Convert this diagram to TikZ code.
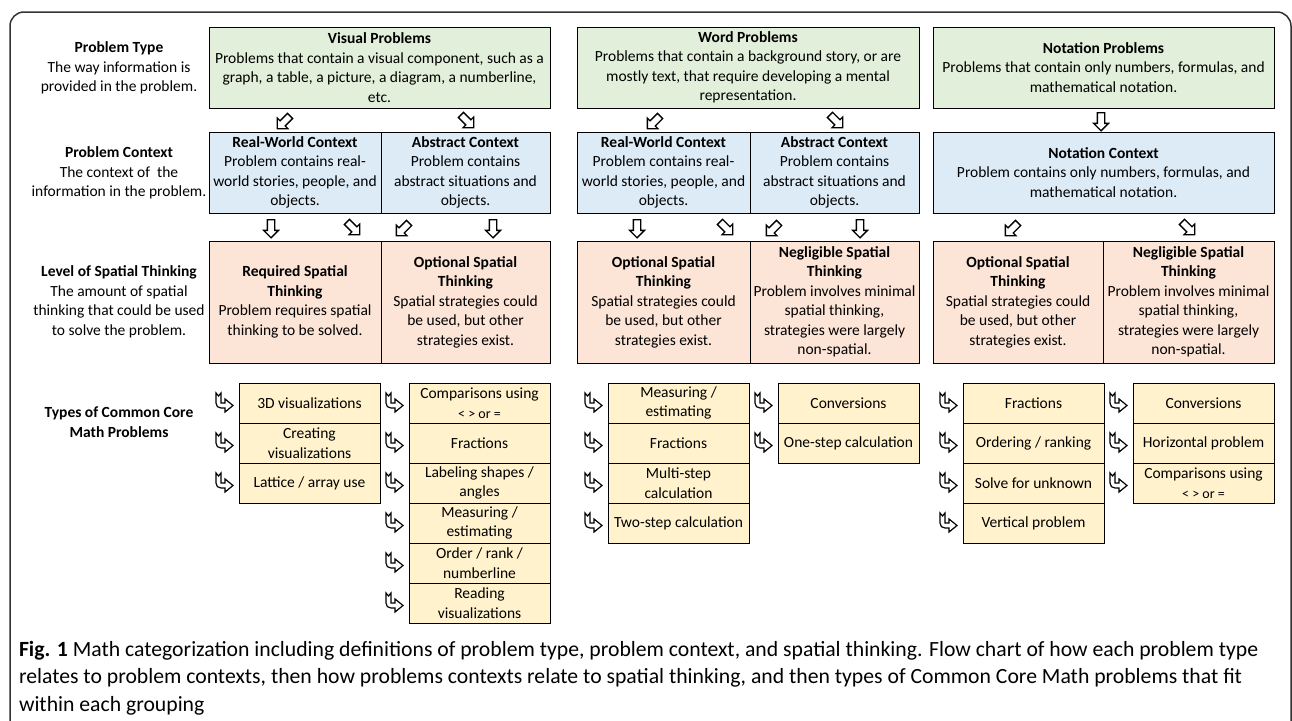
\documentclass[tikz,border=0pt]{standalone}
\usepackage{fontspec}
\setmainfont{Carlito}
\usetikzlibrary{positioning,shapes.arrows}
\definecolor{typegreen}{HTML}{E2EFDA}
\definecolor{ctxblue}{HTML}{DDEBF7}
\definecolor{spsalmon}{HTML}{FCE4D6}
\definecolor{itemyellow}{HTML}{FFF2CC}
\definecolor{framegray}{HTML}{333333}
\newcommand{\smallsign}[1]{{\fontsize{14}{16}\selectfont #1}}

\begin{document}
\begin{tikzpicture}[x=1pt, y=-1pt, node distance=0pt,
  every node/.style={font=\fontsize{15.5}{19.5}\selectfont, inner sep=0pt, outer sep=0pt},
  typebox/.style={draw, line width=0.9pt, fill=typegreen, minimum width=341pt, minimum height=81pt, align=center, anchor=north west},
  ctxbox/.style={draw, line width=0.9pt, fill=ctxblue, minimum height=81pt, align=center},
  spbox/.style={draw, line width=0.9pt, fill=spsalmon, minimum height=122pt, align=center},
  itembox/.style={draw, line width=0.9pt, fill=itemyellow, minimum width=141pt, minimum height=40pt, align=center},
  hollow/.style={single arrow, draw, line width=1.3pt, fill=white, minimum height=18pt, inner xsep=0pt, inner ysep=3pt, single arrow head extend=3.8pt},
  bentarrow/.pic={\draw[line width=1.2pt, fill=white] (-8,-10) -- (-5.5,-7) -- (-3,-10) -- (-3,0) -- (1,0) -- (1,-4) -- (9,2.5) -- (1,9) -- (1,5) -- (-3,5) .. controls (-6,5) and (-8,3) .. (-8,0) -- cycle;}]
  \useasboundingbox (0,0) rectangle (1292,720);
  \draw[framegray, line width=1.5pt, rounded corners=14pt] (10,730) -- (10,12) -- (1291,12) -- (1291,730);

  % row labels
  \node (ltype) [align=center] at (119,68) {\textbf{Problem Type}\\The way information is\\provided in the problem.};
  \node (lctx) [align=center] at (119,173) {\textbf{Problem Context}\\The context of\ \ the\\information in the problem.};
  \node (lspat) [align=center] at (119,302) {\textbf{Level of Spatial Thinking}\\The amount of spatial\\thinking that could be used\\to solve the problem.};
  \node (lcore) [align=center] at (119,422) {\textbf{Types of Common Core}\\\textbf{Math Problems}};

  % problem types
  \node (gv) [typebox] at (209,27) {\textbf{Visual Problems}\\Problems that contain a visual component, such as a\\graph, a table, a picture, a diagram, a numberline,\\etc.};
  \node (gw) [typebox, minimum width=342pt] at (577,27) {\textbf{Word Problems}\\Problems that contain a background story, or are\\mostly text, that require developing a mental\\representation.};
  \node (gn) [typebox] at (933,27) {\textbf{Notation Problems}\\Problems that contain only numbers, formulas, and\\mathematical notation.};

  % problem contexts
  \node (bv1) [ctxbox, minimum width=172pt, below=24pt of gv.south west, anchor=north west] {\textbf{Real-World Context}\\Problem contains real-\\world stories, people, and\\objects.};
  \node (bv2) [ctxbox, minimum width=169pt, right=of bv1] {\textbf{Abstract Context}\\Problem contains\\abstract situations and\\objects.};
  \node (bw1) [ctxbox, minimum width=173pt, below=24pt of gw.south west, anchor=north west] {\textbf{Real-World Context}\\Problem contains real-\\world stories, people, and\\objects.};
  \node (bw2) [ctxbox, minimum width=169pt, right=of bw1] {\textbf{Abstract Context}\\Problem contains\\abstract situations and\\objects.};
  \node (bn) [ctxbox, minimum width=341pt, below=24pt of gn.south west, anchor=north west] {\textbf{Notation Context}\\Problem contains only numbers, formulas, and\\mathematical notation.};

  % spatial thinking
  \node (sv1) [spbox, minimum width=172pt, below=28pt of bv1.south west, anchor=north west] {\textbf{Required Spatial}\\\textbf{Thinking}\\Problem requires spatial\\thinking to be solved.};
  \node (sv2) [spbox, minimum width=169pt, right=of sv1] {\textbf{Optional Spatial}\\\textbf{Thinking}\\Spatial strategies could\\be used, but other\\strategies exist.};
  \node (sw1) [spbox, minimum width=173pt, below=28pt of bw1.south west, anchor=north west] {\textbf{Optional Spatial}\\\textbf{Thinking}\\Spatial strategies could\\be used, but other\\strategies exist.};
  \node (sw2) [spbox, minimum width=169pt, right=of sw1] {\textbf{Negligible Spatial}\\\textbf{Thinking}\\Problem involves minimal\\spatial thinking,\\strategies were largely\\non-spatial.};
  \node (sn1) [spbox, minimum width=170pt, below=28pt of bn.south west, anchor=north west] {\textbf{Optional Spatial}\\\textbf{Thinking}\\Spatial strategies could\\be used, but other\\strategies exist.};
  \node (sn2) [spbox, minimum width=171pt, right=of sn1] {\textbf{Negligible Spatial}\\\textbf{Thinking}\\Problem involves minimal\\spatial thinking,\\strategies were largely\\non-spatial.};

  % hollow arrows between the rows
  \node (a1) [hollow, rotate=225] at (285,121) {};
  \node (a2) [hollow, rotate=-45] at (466,120) {};
  \node (a3) [hollow, rotate=225] at (655,121) {};
  \node (a4) [hollow, rotate=-45] at (835,120) {};
  \node (a5) [hollow, rotate=-90] at (1101,120) {};
  \node (a6) [hollow, rotate=-90] at (271,227) {};
  \node (a7) [hollow, rotate=-45] at (352,227) {};
  \node (a8) [hollow, rotate=225] at (404,228) {};
  \node (a9) [hollow, rotate=-90] at (493,227) {};
  \node (a10) [hollow, rotate=-90] at (637,227) {};
  \node (a11) [hollow, rotate=-45] at (725,227) {};
  \node (a12) [hollow, rotate=225] at (774,228) {};
  \node (a13) [hollow, rotate=-90] at (860,227) {};
  \node (a14) [hollow, rotate=225] at (1013,228) {};
  \node (a15) [hollow, rotate=-45] at (1187,227) {};

  % common core problem types
  \node (v1a) [itembox, below right=20pt and 30pt of sv1.south west] {3D visualizations};
  \node (v1b) [itembox, below=of v1a] {Creating\\visualizations};
  \node (v1c) [itembox, below=of v1b] {Lattice / array use};

  \node (v2a) [itembox, below right=20pt and 28pt of sv2.south west] {Comparisons using\\\smallsign{< > or =}};
  \node (v2b) [itembox, below=of v2a] {Fractions};
  \node (v2c) [itembox, below=of v2b] {Labeling shapes /\\angles};
  \node (v2d) [itembox, below=of v2c] {Measuring /\\estimating};
  \node (v2e) [itembox, below=of v2d] {Order / rank /\\numberline};
  \node (v2f) [itembox, below=of v2e] {Reading\\visualizations};

  \node (w1a) [itembox, below right=20pt and 31pt of sw1.south west] {Measuring /\\estimating};
  \node (w1b) [itembox, below=of w1a] {Fractions};
  \node (w1c) [itembox, below=of w1b] {Multi-step\\calculation};
  \node (w1d) [itembox, below=of w1c] {Two-step calculation};

  \node (w2a) [itembox, below right=20pt and 28pt of sw2.south west] {Conversions};
  \node (w2b) [itembox, below=of w2a] {One-step calculation};

  \node (n1a) [itembox, below right=20pt and 30pt of sn1.south west] {Fractions};
  \node (n1b) [itembox, below=of n1a] {Ordering / ranking};
  \node (n1c) [itembox, below=of n1b] {Solve for unknown};
  \node (n1d) [itembox, below=of n1c] {Vertical problem};

  \node (n2a) [itembox, below right=20pt and 30pt of sn2.south west] {Conversions};
  \node (n2b) [itembox, below=of n2a] {Horizontal problem};
  \node (n2c) [itembox, below=of n2b] {Comparisons using\\\smallsign{< > or =}};

  % bent arrows in front of each type
  \pic at ([xshift=-15pt]v1a.west) {bentarrow};
  \pic at ([xshift=-15pt]v1b.west) {bentarrow};
  \pic at ([xshift=-15pt]v1c.west) {bentarrow};
  \pic at ([xshift=-15pt]v2a.west) {bentarrow};
  \pic at ([xshift=-15pt]v2b.west) {bentarrow};
  \pic at ([xshift=-15pt]v2c.west) {bentarrow};
  \pic at ([xshift=-15pt]v2d.west) {bentarrow};
  \pic at ([xshift=-15pt]v2e.west) {bentarrow};
  \pic at ([xshift=-15pt]v2f.west) {bentarrow};
  \pic at ([xshift=-15pt]w1a.west) {bentarrow};
  \pic at ([xshift=-15pt]w1b.west) {bentarrow};
  \pic at ([xshift=-15pt]w1c.west) {bentarrow};
  \pic at ([xshift=-15pt]w1d.west) {bentarrow};
  \pic at ([xshift=-15pt]w2a.west) {bentarrow};
  \pic at ([xshift=-15pt]w2b.west) {bentarrow};
  \pic at ([xshift=-15pt]n1a.west) {bentarrow};
  \pic at ([xshift=-15pt]n1b.west) {bentarrow};
  \pic at ([xshift=-15pt]n1c.west) {bentarrow};
  \pic at ([xshift=-15pt]n1d.west) {bentarrow};
  \pic at ([xshift=-15pt]n2a.west) {bentarrow};
  \pic at ([xshift=-15pt]n2b.west) {bentarrow};
  \pic at ([xshift=-15pt]n2c.west) {bentarrow};

  % caption
  \node (cap) [anchor=west, align=left, font=\fontsize{21.7}{27.5}\selectfont] at (19,678) {\textbf{Fig. 1} Math categorization including definitions of problem type, problem context, and spatial thinking. Flow chart of how each problem type\\relates to problem contexts, then how problems contexts relate to spatial thinking, and then types of Common Core Math problems that fit\\within each grouping};
\end{tikzpicture}
\end{document}
